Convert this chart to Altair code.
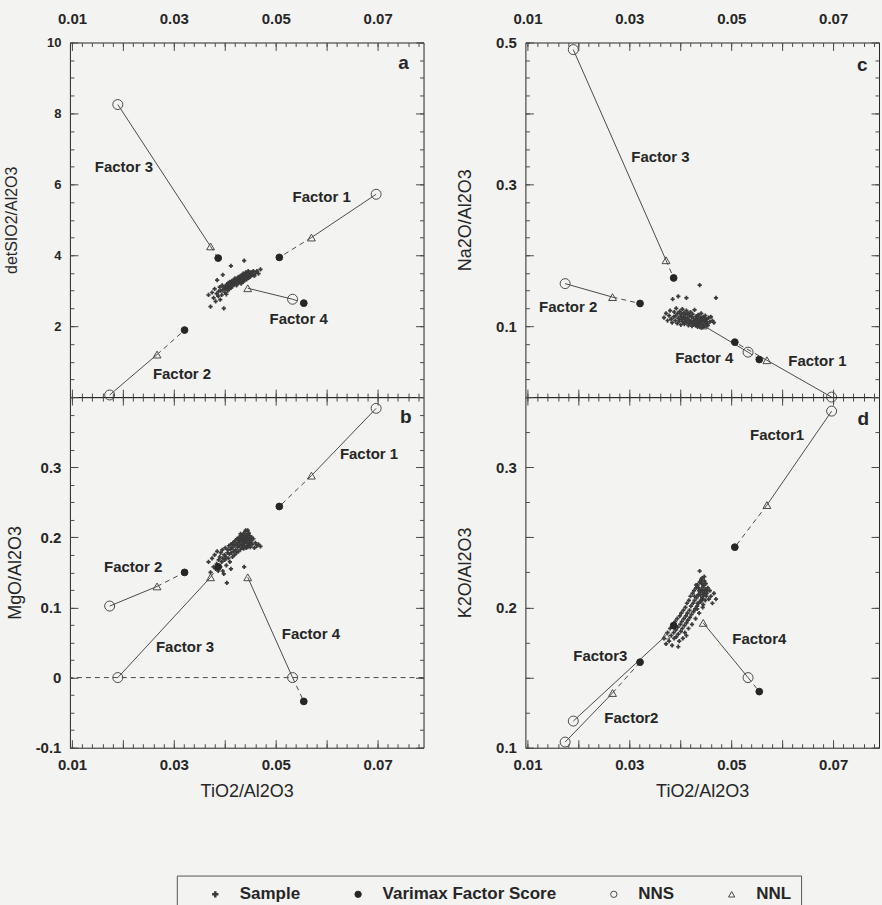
import altair as alt
import pandas as pd

FONT = "Liberation Sans"
INK = "#262626"
GREY = "#4a4a4a"
BG = "#f3f3f1"

# ---------------- data ----------------
factor_names = ["Factor 1", "Factor 2", "Factor 3", "Factor 4"]
# TiO2/Al2O3 (x) is the same in every panel
vfs_x = [0.0507, 0.0321, 0.0387, 0.0555]
nns_x = [0.0697, 0.0174, 0.0190, 0.0533]
nnl_x = [0.0570, 0.0267, 0.0372, 0.0445]

a_vfs = [3.94, 1.89, 3.92, 2.65]
a_nns = [5.72, 0.06, 8.25, 2.76]
a_nnl = [4.50, 1.20, 4.25, 3.07]

b_vfs = [0.244, 0.150, 0.158, -0.034]
b_nns = [0.384, 0.102, 0.000, 0.000]
b_nnl = [0.288, 0.130, 0.143, 0.143]

c_vfs = [0.0775, 0.132, 0.168, 0.053]
c_nns = [0.000, 0.160, 0.490, 0.0634]
c_nnl = [0.052, 0.141, 0.193, 0.101]

d_vfs = [0.243, 0.161, 0.187, 0.140]
d_nns = [0.340, 0.104, 0.119, 0.150]
d_nnl = [0.273, 0.139, 0.180, 0.189]

sample_x = [0.0368, 0.0372, 0.0375, 0.0378, 0.0380, 0.0382, 0.0384, 0.0385, 0.0387, 0.0388,
            0.0390, 0.0391, 0.0392, 0.0394, 0.0395, 0.0396, 0.0398, 0.0399, 0.0400, 0.0401,
            0.0402, 0.0403, 0.0404, 0.0405, 0.0406, 0.0407, 0.0408, 0.0409, 0.0410, 0.0411,
            0.0412, 0.0413, 0.0414, 0.0415, 0.0416, 0.0417, 0.0418, 0.0419, 0.0420, 0.0421,
            0.0422, 0.0423, 0.0424, 0.0425, 0.0426, 0.0427, 0.0428, 0.0429, 0.0430, 0.0431,
            0.0432, 0.0433, 0.0434, 0.0435, 0.0436, 0.0437, 0.0438, 0.0439, 0.0440, 0.0441,
            0.0442, 0.0443, 0.0444, 0.0445, 0.0446, 0.0447, 0.0448, 0.0449, 0.0450, 0.0452,
            0.0454, 0.0456, 0.0458, 0.0460, 0.0463, 0.0466, 0.0470, 0.0396, 0.0412, 0.0438,
            0.0428, 0.0431, 0.0434, 0.0436, 0.0439, 0.0441, 0.0443, 0.0444, 0.0446, 0.0448,
            0.0433, 0.0437, 0.0440, 0.0442, 0.0445, 0.0447, 0.0449, 0.0451, 0.0453, 0.0443]

a_sample = [2.88, 2.55, 2.95, 2.80, 3.05, 2.70, 2.92, 3.30, 2.85, 2.98,
            3.10, 2.75, 3.00, 2.88, 3.15, 3.02, 2.50, 3.08, 2.95, 3.12,
            3.05, 2.90, 3.18, 3.10, 3.00, 3.22, 3.12, 3.05, 3.25, 3.15,
            3.08, 3.20, 3.28, 3.12, 3.22, 3.30, 3.18, 3.25, 3.35, 3.20,
            3.28, 3.15, 3.32, 3.25, 3.38, 3.22, 3.30, 3.40, 3.28, 3.35,
            3.20, 3.42, 3.32, 3.38, 3.25, 3.45, 3.35, 3.30, 3.42, 3.38,
            3.48, 3.32, 3.45, 3.40, 3.50, 3.36, 3.44, 3.52, 3.40, 3.48,
            3.45, 3.55, 3.42, 3.50, 3.55, 3.48, 3.60, 3.45, 3.70, 3.85,
            3.35, 3.42, 3.30, 3.48, 3.40, 3.52, 3.45, 3.38, 3.55, 3.46,
            3.28, 3.36, 3.33, 3.44, 3.47, 3.41, 3.50, 3.43, 3.52, 3.39]

b_sample = [0.165, 0.150, 0.170, 0.158, 0.175, 0.155, 0.162, 0.180, 0.152, 0.168,
            0.172, 0.158, 0.178, 0.165, 0.182, 0.170, 0.148, 0.175, 0.168, 0.185,
            0.172, 0.160, 0.135, 0.178, 0.182, 0.170, 0.188, 0.176, 0.165, 0.183,
            0.190, 0.178, 0.185, 0.172, 0.192, 0.180, 0.188, 0.175, 0.195, 0.182,
            0.190, 0.178, 0.198, 0.186, 0.192, 0.180, 0.200, 0.188, 0.194, 0.183,
            0.202, 0.190, 0.196, 0.185, 0.205, 0.192, 0.198, 0.188, 0.208, 0.195,
            0.185, 0.200, 0.192, 0.210, 0.188, 0.198, 0.192, 0.202, 0.186, 0.195,
            0.190, 0.198, 0.185, 0.192, 0.188, 0.190, 0.187, 0.152, 0.155, 0.158,
            0.196, 0.205, 0.188, 0.200, 0.193, 0.210, 0.187, 0.203, 0.197, 0.192,
            0.199, 0.184, 0.202, 0.194, 0.186, 0.206, 0.196, 0.191, 0.200, 0.203]

c_sample = [0.112, 0.118, 0.108, 0.115, 0.122, 0.110, 0.105, 0.138, 0.113, 0.120,
            0.108, 0.115, 0.125, 0.104, 0.118, 0.111, 0.107, 0.121, 0.114, 0.102,
            0.117, 0.110, 0.124, 0.106, 0.113, 0.119, 0.103, 0.111, 0.116, 0.108,
            0.122, 0.105, 0.112, 0.118, 0.101, 0.109, 0.115, 0.104, 0.120, 0.107,
            0.113, 0.100, 0.117, 0.106, 0.111, 0.103, 0.123, 0.108, 0.101, 0.114,
            0.105, 0.110, 0.099, 0.116, 0.104, 0.108, 0.100, 0.112, 0.103, 0.118,
            0.101, 0.107, 0.099, 0.113, 0.102, 0.109, 0.100, 0.115, 0.104, 0.110,
            0.101, 0.112, 0.106, 0.113, 0.108, 0.105, 0.140, 0.142, 0.140, 0.158,
            0.104, 0.110, 0.101, 0.107, 0.099, 0.112, 0.103, 0.108, 0.100, 0.106,
            0.114, 0.102, 0.109, 0.098, 0.105, 0.111, 0.101, 0.107, 0.103, 0.099]

d_sample = [0.178, 0.174, 0.182, 0.176, 0.185, 0.180, 0.173, 0.188, 0.182, 0.178,
            0.190, 0.184, 0.179, 0.192, 0.186, 0.181, 0.176, 0.194, 0.188, 0.183,
            0.196, 0.190, 0.185, 0.178, 0.198, 0.192, 0.187, 0.182, 0.200, 0.194,
            0.189, 0.203, 0.196, 0.191, 0.185, 0.205, 0.198, 0.193, 0.208, 0.201,
            0.195, 0.188, 0.210, 0.203, 0.197, 0.212, 0.205, 0.199, 0.192, 0.214,
            0.207, 0.201, 0.216, 0.209, 0.203, 0.196, 0.218, 0.211, 0.205, 0.220,
            0.213, 0.207, 0.200, 0.215, 0.209, 0.222, 0.212, 0.205, 0.217, 0.210,
            0.214, 0.206, 0.212, 0.208, 0.203, 0.210, 0.206, 0.172, 0.180, 0.226,
            0.208, 0.216, 0.203, 0.214, 0.209, 0.218, 0.211, 0.206, 0.216, 0.210,
            0.199, 0.212, 0.204, 0.217, 0.202, 0.219, 0.213, 0.208, 0.212, 0.221]

# factor label anchors (data coordinates)
a_lab_x = [0.0590, 0.0316, 0.0202, 0.0545]
a_lab_y = [5.63, 0.65, 6.48, 2.20]
b_lab_x = [0.0683, 0.0220, 0.0322, 0.0569]
b_lab_y = [0.319, 0.157, 0.044, 0.062]
c_lab_x = [0.0669, 0.0180, 0.0361, 0.0447]
c_lab_y = [0.0507, 0.127, 0.338, 0.055]
d_lab_x = [0.0590, 0.0304, 0.0243, 0.0555]
d_lab_y = [0.323, 0.121, 0.1655, 0.1775]
d_lab_text = ["Factor1", "Factor2", "Factor3", "Factor4"]

letters = ["a", "b", "c", "d"]
letter_x = [0.0751, 0.0755, 0.0757, 0.0759]
letter_y = [9.41, 0.372, 0.468, 0.3345]

b_reference_line = [0.0]

# axis labels
x_label_values = [0.01, 0.03, 0.05, 0.07]
x_label_texts = ["0.01", "0.03", "0.05", "0.07"]
a_label_values = [2, 4, 6, 8, 10]
a_label_texts = ["2", "4", "6", "8", "10"]
b_label_values = [-0.1, 0.0, 0.1, 0.2, 0.3]
b_label_texts = ["-0.1", "0", "0.1", "0.2", "0.3"]
c_label_values = [0.1, 0.3, 0.5]
c_label_texts = ["0.1", "0.3", "0.5"]
d_label_values = [0.1, 0.2, 0.3]
d_label_texts = ["0.1", "0.2", "0.3"]

kinds = ["Sample", "Varimax Factor Score", "NNS", "NNL"]


# ---------------- helpers ----------------
def ticks_between(lo, hi, step):
    n = int(round((hi - lo) / step))
    return [round(lo + i * step, 5) for i in range(n + 1)]


def label_expr(values, texts):
    expr = "''"
    for v, t in zip(reversed(values), reversed(texts)):
        expr = f"round(datum.value*10000)=={int(round(v * 10000))} ? '{t}' : ({expr})"
    return expr


X_DOMAIN = [0.0096, 0.0790]
PW = 354
x_major = ticks_between(0.01, 0.07, 0.01)
x_minor = ticks_between(0.01, 0.078, 0.002)

PANELS = {
    "a": dict(sample=a_sample, vfs=a_vfs, nns=a_nns, nnl=a_nnl, lab_x=a_lab_x, lab_y=a_lab_y,
              lab_text=factor_names, idx=0, domain=[0, 10], height=355,
              y_major=ticks_between(2, 10, 2), y_minor=ticks_between(0, 10, 0.5),
              lv=a_label_values, lt=a_label_texts, lsize=13,
              title="detSIO2/Al2O3", tsize=16, tx=-66, top=True),
    "b": dict(sample=b_sample, vfs=b_vfs, nns=b_nns, nnl=b_nnl, lab_x=b_lab_x, lab_y=b_lab_y,
              lab_text=factor_names, idx=1, domain=[-0.1, 0.4], height=351,
              y_major=ticks_between(-0.1, 0.4, 0.1), y_minor=ticks_between(-0.1, 0.4, 0.025),
              lv=b_label_values, lt=b_label_texts, lsize=15,
              title="MgO/Al2O3", tsize=18, tx=-62, top=False),
    "c": dict(sample=c_sample, vfs=c_vfs, nns=c_nns, nnl=c_nnl, lab_x=c_lab_x, lab_y=c_lab_y,
              lab_text=factor_names, idx=2, domain=[0, 0.5], height=355,
              y_major=ticks_between(0, 0.5, 0.1), y_minor=ticks_between(0, 0.5, 0.025),
              lv=c_label_values, lt=c_label_texts, lsize=15,
              title="Na2O/Al2O3", tsize=18, tx=-68, top=True),
    "d": dict(sample=d_sample, vfs=d_vfs, nns=d_nns, nnl=d_nnl, lab_x=d_lab_x, lab_y=d_lab_y,
              lab_text=d_lab_text, idx=3, domain=[0.1, 0.35], height=351,
              y_major=ticks_between(0.1, 0.35, 0.05), y_minor=ticks_between(0.1, 0.35, 0.025),
              lv=d_label_values, lt=d_label_texts, lsize=15,
              title="K2O/Al2O3", tsize=18, tx=-68, top=False),
}


def x_axis(orient, major, labels, title):
    size = 8 if major else 4
    kw = dict(orient=orient, values=x_major if major else x_minor, tickSize=size, offset=-size,
              domain=False, grid=False, ticks=True, tickColor=GREY, tickWidth=1, tickOpacity=1,
              labels=labels, title=None, labelFlush=False, labelOverlap=False, zindex=2)
    if labels:
        kw.update(labelExpr=label_expr(x_label_values, x_label_texts), labelFont=FONT,
                  labelFontSize=15, labelFontWeight="bold", labelColor=INK,
                  labelPadding=16 if orient == "top" else 10)
    if title:
        kw.update(title="TiO2/Al2O3", titleFont=FONT, titleFontSize=18, titleFontWeight="normal",
                  titleColor=INK, titlePadding=10)
    return alt.Axis(**kw)


def y_axis(P, orient, major):
    size = 8 if major else 4
    kw = dict(orient=orient, values=P["y_major"] if major else P["y_minor"], tickSize=size,
              offset=-size, domain=False, grid=False, ticks=True, tickColor=GREY, tickWidth=1,
              tickOpacity=1, labels=False, title=None, labelFlush=False, labelOverlap=False, zindex=2)
    if orient == "left" and major:
        kw.update(labels=True, labelExpr=label_expr(P["lv"], P["lt"]), labelFont=FONT,
                  labelFontSize=P["lsize"], labelFontWeight="bold", labelColor=INK, labelPadding=9,
                  title=P["title"], titleFont=FONT, titleFontSize=P["tsize"], titleFontWeight="normal",
                  titleColor=INK, titleX=P["tx"], titleY=P["height"] / 2, titleBaseline="middle")
    return alt.Axis(**kw)


# one legend shared by all panels (kind scales are shared across the concat)
LEGEND = alt.Legend(orient="none", legendX=107, legendY=834, direction="horizontal",
                    title=None, strokeColor="#555555", fillColor=BG, padding=10,
                    labelFont=FONT, labelFontSize=17, labelFontWeight="bold",
                    labelColor=INK, columnPadding=29, labelOffset=16, labelLimit=0,
                    symbolOffset=20, symbolStrokeWidth=1, symbolSize=40, values=kinds)

POINT_SIZE = (alt.when(alt.datum.kind == "NNS").then(alt.value(100))
              .when(alt.datum.kind == "NNL").then(alt.value(62))
              .when(alt.datum.kind == "Varimax Factor Score").then(alt.value(46))
              .otherwise(alt.value(18)))


def build_panel(key):
    P = PANELS[key]
    top = P["top"]
    xs = alt.Scale(domain=X_DOMAIN, nice=False, zero=False)
    ys = alt.Scale(domain=P["domain"], nice=False, zero=False)
    yr = P["domain"][1] - P["domain"][0]
    xr = X_DOMAIN[1] - X_DOMAIN[0]

    rows = [dict(x=x, y=y, kind="Sample") for x, y in zip(sample_x, P["sample"])]
    for i in range(4):
        rows.append(dict(x=vfs_x[i], y=P["vfs"][i], kind="Varimax Factor Score"))
        rows.append(dict(x=nns_x[i], y=P["nns"][i], kind="NNS"))
        rows.append(dict(x=nnl_x[i], y=P["nnl"][i], kind="NNL"))
    pts = pd.DataFrame(rows)

    solid_rows, dash_rows = [], []
    for i, f in enumerate(factor_names):
        solid_rows.append(dict(seg=f, o=0, x=nns_x[i], y=P["nns"][i]))
        solid_rows.append(dict(seg=f, o=1, x=nnl_x[i], y=P["nnl"][i]))
        d_nns_ = ((nns_x[i] - vfs_x[i]) / xr) ** 2 + ((P["nns"][i] - P["vfs"][i]) / yr) ** 2
        d_nnl_ = ((nnl_x[i] - vfs_x[i]) / xr) ** 2 + ((P["nnl"][i] - P["vfs"][i]) / yr) ** 2
        if d_nnl_ <= d_nns_:
            sx, sy = nnl_x[i], P["nnl"][i]
        else:
            sx, sy = nns_x[i], P["nns"][i]
        dash_rows.append(dict(seg=f, o=0, x=sx, y=sy))
        dash_rows.append(dict(seg=f, o=1, x=vfs_x[i], y=P["vfs"][i]))
    solid_df = pd.DataFrame(solid_rows)
    dash_df = pd.DataFrame(dash_rows)

    lab_df = pd.DataFrame(dict(x=P["lab_x"], y=P["lab_y"], t=P["lab_text"]))
    j = P["idx"]
    let_df = pd.DataFrame(dict(x=[letter_x[j]], y=[letter_y[j]], t=[letters[j]]))

    points = alt.Chart(pts).mark_point(strokeWidth=1, opacity=1).encode(
        x=alt.X("x:Q", scale=xs, axis=x_axis("top", True, top, False)),
        y=alt.Y("y:Q", scale=ys, axis=y_axis(P, "left", True)),
        shape=alt.Shape("kind:N", scale=alt.Scale(domain=kinds, range=["cross", "circle", "circle", "triangle-up"]), legend=LEGEND),
        fill=alt.Fill("kind:N", scale=alt.Scale(domain=kinds, range=["#3a3a3a", INK, "transparent", "transparent"]), legend=LEGEND),
        stroke=alt.Stroke("kind:N", scale=alt.Scale(domain=kinds, range=["transparent", INK, GREY, GREY]), legend=LEGEND),
        size=POINT_SIZE,
    )

    solid = alt.Chart(solid_df).mark_line(color=GREY, strokeWidth=1).encode(
        x=alt.X("x:Q", scale=xs, axis=x_axis("top", False, False, False)),
        y=alt.Y("y:Q", scale=ys, axis=y_axis(P, "left", False)),
        detail="seg:N", order="o:Q",
    )
    dashed = alt.Chart(dash_df).mark_line(color=GREY, strokeWidth=1, strokeDash=[5, 4]).encode(
        x=alt.X("x:Q", scale=xs, axis=x_axis("bottom", True, not top, not top)),
        y=alt.Y("y:Q", scale=ys, axis=y_axis(P, "right", True)),
        detail="seg:N", order="o:Q",
    )
    labels = alt.Chart(lab_df).mark_text(font=FONT, fontSize=15, fontWeight="bold", color=INK).encode(
        x=alt.X("x:Q", scale=xs, axis=x_axis("bottom", False, False, False)),
        y=alt.Y("y:Q", scale=ys, axis=y_axis(P, "right", False)),
        text="t:N",
    )
    letter = alt.Chart(let_df).mark_text(font=FONT, fontSize=19, fontWeight="bold", color=INK).encode(
        x=alt.X("x:Q", scale=xs, axis=None),
        y=alt.Y("y:Q", scale=ys, axis=None),
        text="t:N",
    )
    layers = [solid, dashed, points, labels, letter]
    if key == "b":
        zero = alt.Chart(pd.DataFrame(dict(y=b_reference_line))).mark_rule(
            color=GREY, strokeWidth=1, strokeDash=[5, 4]).encode(
            y=alt.Y("y:Q", scale=ys, axis=None))
        layers = [zero] + layers
    return alt.layer(*layers).resolve_axis(x="independent", y="independent").properties(
        width=PW, height=P["height"])


chart = alt.concat(
    build_panel("a"), build_panel("c"),
    build_panel("b"), build_panel("d"),
    columns=2, spacing={"row": 0, "column": 102}, bounds="flush",
).properties(
    background=BG, padding={"left": 3, "top": 10, "right": 2, "bottom": 60}
).configure_view(stroke=INK, strokeWidth=1)

chart.save("out.html", embed_options={"renderer": "svg", "actions": False})
